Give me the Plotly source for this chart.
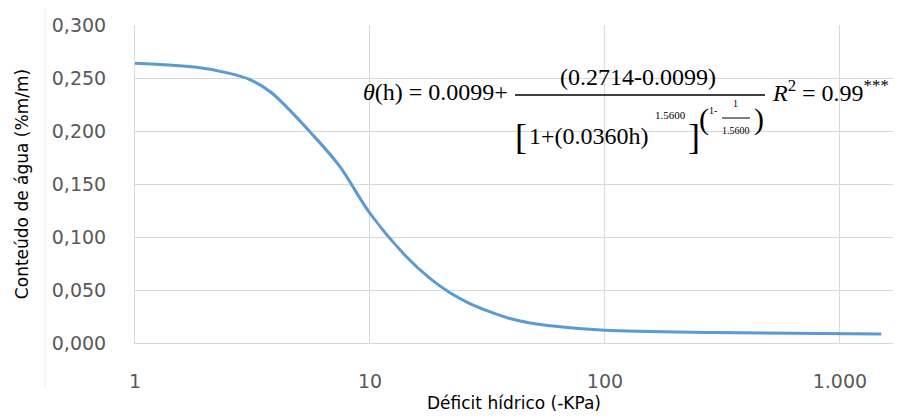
import plotly.graph_objects as go

# Data
deficit_kpa = [1, 1.8, 2.5, 3.1, 3.8, 5.8, 7.45, 10, 14.3, 18, 21.9, 26.6, 32.5, 39.4, 48, 57, 100, 290, 1500]
water_content = [0.264, 0.2603, 0.2546, 0.2483, 0.2363, 0.1947, 0.1664, 0.1223, 0.0813, 0.0609,
                 0.0474, 0.0372, 0.0293, 0.0231, 0.0189, 0.0165, 0.012, 0.0098, 0.0085]
x_tickvals = [1, 10, 100, 1000]
x_ticktext = ["1", "10", "100", "1.000"]
y_tickvals = [0, 0.05, 0.10, 0.15, 0.20, 0.25, 0.30]

# the page body has an 8px margin, so the figure is drawn 8px in from the window edge
OFF = 8
W_FIG, H_FIG = 902 - OFF, 420 - OFF
ML, MR, MT, MB = 135 - OFF, 9, 25 - OFF, 77
PW = W_FIG - ML - MR
PH = H_FIG - MT - MB


def px(x):
    # x in window pixels -> paper coordinate
    return (x - OFF - ML) / PW


def py(y):
    # y in window pixels -> paper coordinate
    return (H_FIG - MB - (y - OFF)) / PH


fig = go.Figure()
fig.add_trace(go.Scatter(
    x=deficit_kpa, y=water_content, mode="lines",
    line=dict(color="#5b9bd5", width=3, shape="spline", smoothing=0.9),
    showlegend=False, hoverinfo="x+y"))

tick_font = dict(family="DejaVu Sans", size=19, color="#595959")
title_font = dict(family="DejaVu Sans", size=17, color="#000000")

fig.update_layout(
    width=W_FIG, height=H_FIG,
    margin=dict(l=ML, r=MR, t=MT, b=MB, autoexpand=False),
    paper_bgcolor="white", plot_bgcolor="white",
    separators=",.",
    xaxis=dict(type="log", range=[0, 3.226], tickvals=x_tickvals, ticktext=x_ticktext,
               showgrid=True, gridcolor="#d9d9d9", gridwidth=1,
               showline=True, linecolor="#d9d9d9", linewidth=1,
               zeroline=False, ticks="", tickfont=tick_font, ticklabelstandoff=21,
               title=dict(text="Déficit hídrico (-KPa)", font=title_font, standoff=6)),
    yaxis=dict(range=[0, 0.3], tickvals=y_tickvals, tickformat=".3f",
               showgrid=True, gridcolor="#d9d9d9", gridwidth=1,
               showline=True, linecolor="#d9d9d9", linewidth=1,
               zeroline=False, ticks="", tickfont=tick_font, ticklabelstandoff=24,
               title=dict(text="Conteúdo de água (%m/m)", font=title_font, standoff=18)),
)

# white box behind the equation (covers gridlines like the pasted equation image)
fig.add_shape(type="rect", xref="paper", yref="paper", x0=px(354), x1=1.02, y0=py(162), y1=py(36),
              fillcolor="white", line=dict(width=0), layer="between")
# faint chart border line at left
fig.add_shape(type="line", xref="paper", yref="paper", x0=px(45), x1=px(45), y0=py(388), y1=py(8),
              line=dict(color="#eeeeee", width=1), layer="below")

serif = "Liberation Serif"


def ann(text, x, y, size, xanchor="center", yanchor="middle"):
    fig.add_annotation(text=text, xref="paper", yref="paper", x=px(x), y=py(y),
                       xanchor=xanchor, yanchor=yanchor, showarrow=False,
                       font=dict(family=serif, size=size, color="black"))


def hline(x0, x1, y, w=1.3):
    fig.add_shape(type="line", xref="paper", yref="paper", x0=px(x0), x1=px(x1), y0=py(y), y1=py(y),
                  line=dict(color="black", width=w), layer="above")


ann("<i>θ</i>(h) = 0.0099+", 361, 92, 24, xanchor="left")
ann("(0.2714-0.0099)", 638, 77, 24)
hline(515, 765, 95)
ann("[", 521, 137, 36)
ann("1+(0.0360h)", 589, 136, 24)
ann("1.5600", 670, 115, 11)
ann("]", 694, 137, 36)
ann("(", 704, 119, 30)
ann("1-", 713, 110, 10)
ann("1", 735, 104, 10)
hline(722, 750, 118, 1)
ann("1.5600", 736, 130, 10)
ann(")", 759, 119, 30)
ann("<i>R</i><sup>2</sup> = 0.99<sup>***</sup>", 770, 91, 24, xanchor="left")

fig.write_html("out.html")
